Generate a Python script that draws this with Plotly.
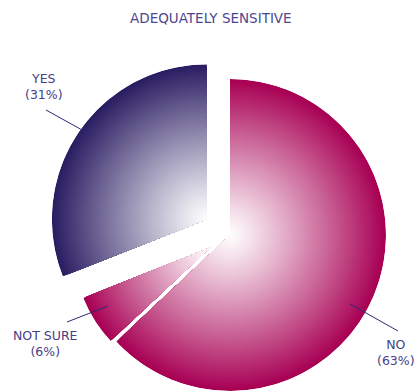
import math
import plotly.graph_objects as go

# Survey answers, clockwise from 12 o'clock
answers = ["NO", "NOT SURE", "YES"]
shares = [63, 6, 31]
title_text = "ADEQUATELY SENSITIVE"

# Styling
W, H = 417, 392
edge_rgb = [(168, 0, 84), (168, 0, 84), (42, 29, 98)]
pull_px = [0, 24, 28]          # how far each wedge is pulled out
radius_px = [156, 136, 155]    # wedge radius
center_px = (230, 235)         # pie centre before pulling
n_layers = 90                  # radial steps used for the shading
text_color = "#463E86"
line_color = "#2E2872"
font_family = "DejaVu Sans"


def mix(rgb, f):
    r, g, b = (round(255 + (c - 255) * f) for c in rgb)
    return f"rgb({r},{g},{b})"


fig = go.Figure()
layout_polars = {}
start = 0.0
for i, (name, share) in enumerate(zip(answers, shares)):
    span = share / sum(shares) * 360.0
    mid = start + span / 2.0
    start += span

    a = math.radians(mid)
    ax = center_px[0] + pull_px[i] * math.sin(a)
    ay = center_px[1] - pull_px[i] * math.cos(a)
    R = radius_px[i]

    # outer rings first, lighter rings on top -> radial white-to-colour shading
    radii = [1 - k / n_layers for k in range(n_layers)]
    colors = [mix(edge_rgb[i], rr ** 1.1) for rr in radii]

    key = "polar" if i == 0 else f"polar{i + 1}"
    fig.add_trace(go.Barpolar(
        r=radii,
        theta=[mid] * n_layers,
        width=[span] * n_layers,
        marker=dict(color=colors, line=dict(width=0)),
        subplot=key,
        hoverinfo="skip",
        name=name,
    ))
    layout_polars[key] = dict(
        domain=dict(x=[(ax - R) / W, (ax + R) / W],
                    y=[1 - (ay + R) / H, 1 - (ay - R) / H]),
        bgcolor="rgba(0,0,0,0)",
        barmode="overlay",
        radialaxis=dict(visible=False, range=[0, 1]),
        angularaxis=dict(visible=False, direction="clockwise", rotation=90),
    )

fig.update_layout(**layout_polars)

# Labels with leader lines (paper pixel positions)
label_pos = [(396, 352.5), (45.5, 343.5), (44, 86.5)]
leader = [((350, 304), (398, 331)),
          ((108, 306), (67, 322)),
          ((93, 136), (46, 110))]

annotations = [dict(
    text=title_text, x=211 / W, y=1 - 18 / H, xref="paper", yref="paper",
    showarrow=False, xanchor="center", yanchor="middle",
    font=dict(family=font_family, size=13.5, color="#4E4690"),
)]
shapes = []
for i, (name, share) in enumerate(zip(answers, shares)):
    lx, ly = label_pos[i]
    annotations.append(dict(
        text=f"{name}<br>({share}%)", x=lx / W, y=1 - ly / H,
        xref="paper", yref="paper", showarrow=False,
        xanchor="center", yanchor="middle", align="center",
        font=dict(family=font_family, size=12.5, color=text_color),
    ))
    (x0, y0), (x1, y1) = leader[i]
    shapes.append(dict(type="line", xref="paper", yref="paper",
                       x0=x0 / W, y0=1 - y0 / H, x1=x1 / W, y1=1 - y1 / H,
                       line=dict(color=line_color, width=1)))

fig.update_layout(
    width=W, height=H,
    margin=dict(l=0, r=0, t=0, b=0),
    paper_bgcolor="white",
    plot_bgcolor="white",
    showlegend=False,
    annotations=annotations,
    shapes=shapes,
)

fig.write_html("out.html")
